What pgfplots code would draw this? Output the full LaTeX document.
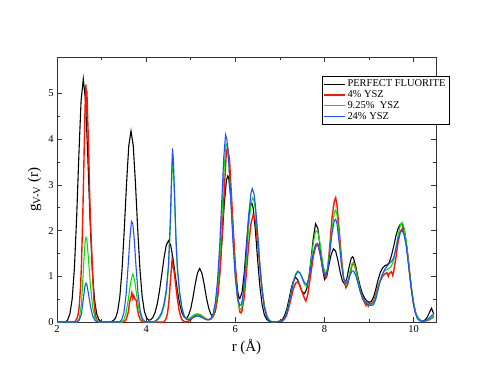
\documentclass[border=0pt]{standalone}
\usepackage{fontspec}
\setmainfont{Liberation Serif}
\usepackage{pgfplots}
\pgfplotsset{compat=1.18}
\definecolor{xgred}{RGB}{255,20,0}
\definecolor{xggreen}{RGB}{0,230,0}
\definecolor{xgblue}{RGB}{30,80,255}
\begin{document}
\begin{tikzpicture}
\path (-57bp,-57bp) rectangle (434bp,322bp);
\begin{axis}[
    at={(0,0)}, anchor=south west,
    scale only axis,
    width=379bp, height=265bp,
    xmin=2, xmax=10.5,
    ymin=0, ymax=5.8,
    xtick={2,4,6,8,10},
    ytick={0,1,2,3,4,5},
    minor x tick num=1,
    minor y tick num=1,
    tick align=inside,
    major tick length=5bp,
    minor tick length=3bp,
    axis line style={black!80, line width=0.6pt},
    every tick/.style={black!80, line width=0.6pt},
    /pgf/number format/assume math mode=true,
    ticklabel style={font=\fontsize{10.5}{12}\selectfont},
    xlabel={r (Å)},
    ylabel={g\textsubscript{V-V} (r)},
    label style={font=\fontsize{15}{17}\selectfont},
    legend cell align=left,
    legend style={at={(rel axis cs:0.699,0.928)}, anchor=north west,
        draw=black, line width=0.6pt, font=\fontsize{10.5}{11}\selectfont,
        inner sep=1.5pt, row sep=-1.5pt},
    legend image code/.code={
        \path (0cm,0cm) -- (0.72cm,0cm);
        \draw[#1, line width=1.1pt] (0.07cm,0cm) -- (0.6cm,0cm);},
]
% PERFECT FLUORITE
\addplot[black, line width=1.1pt] coordinates {
(2.00,0) (2.20,0) (2.24,0.05) (2.29,0.18) (2.34,0.50) (2.39,1.17) (2.44,2.27)
(2.49,3.64) (2.54,4.84) (2.59,5.32) (2.64,4.84) (2.69,3.64) (2.74,2.27) (2.79,1.17)
(2.84,0.50) (2.89,0.18) (2.94,0.05) (2.99,0.01) (3.05,0) (3.20,0) (3.26,0.03)
(3.31,0.08) (3.36,0.23) (3.41,0.56) (3.46,1.16) (3.51,2.04) (3.56,3.03) (3.61,3.86)
(3.66,4.18) (3.71,3.86) (3.76,3.03) (3.81,2.04) (3.86,1.16) (3.91,0.56) (3.96,0.23)
(4.01,0.09) (4.06,0.04) (4.10,0.05) (4.15,0.10) (4.20,0.21) (4.25,0.40) (4.30,0.69)
(4.35,1.04) (4.40,1.40) (4.45,1.68) (4.50,1.78) (4.55,1.68) (4.60,1.40) (4.65,1.04)
(4.70,0.69) (4.75,0.40) (4.80,0.21) (4.85,0.11) (4.90,0.07) (4.95,0.15) (5.00,0.29)
(5.05,0.54) (5.10,0.83) (5.15,1.07) (5.20,1.17) (5.25,1.07) (5.30,0.83) (5.35,0.54)
(5.40,0.31) (5.45,0.17) (5.50,0.12) (5.55,0.23) (5.60,0.52) (5.65,1.04) (5.70,1.78)
(5.75,2.56) (5.80,3.10) (5.83,3.20) (5.85,3.16) (5.90,2.70) (5.95,1.94) (6.00,1.20)
(6.05,0.69) (6.08,0.53) (6.10,0.51) (6.15,0.65) (6.20,1.08) (6.25,1.71) (6.30,2.29)
(6.35,2.59) (6.37,2.60) (6.40,2.50) (6.45,2.00) (6.50,1.36) (6.55,0.78) (6.60,0.38)
(6.65,0.16) (6.70,0.06) (6.75,0.02) (6.80,0.01) (6.95,0) (7.00,0.02) (7.05,0.05)
(7.10,0.13) (7.15,0.27) (7.20,0.48) (7.25,0.72) (7.30,0.90) (7.35,0.98) (7.40,0.92)
(7.45,0.78) (7.50,0.66) (7.55,0.62) (7.60,0.72) (7.65,0.98) (7.70,1.40) (7.75,1.85)
(7.80,2.15) (7.85,2.05) (7.90,1.65) (7.95,1.20) (8.00,0.93) (8.05,1.00) (8.10,1.25)
(8.15,1.48) (8.20,1.60) (8.25,1.55) (8.30,1.35) (8.35,1.10) (8.40,0.90) (8.45,0.83)
(8.50,0.95) (8.55,1.20) (8.60,1.40) (8.63,1.43) (8.65,1.40) (8.70,1.22) (8.75,0.98)
(8.80,0.78) (8.85,0.62) (8.90,0.52) (8.95,0.46) (9.00,0.43) (9.05,0.45) (9.10,0.55)
(9.15,0.72) (9.20,0.92) (9.25,1.08) (9.30,1.18) (9.35,1.23) (9.40,1.25) (9.45,1.30)
(9.50,1.45) (9.55,1.65) (9.60,1.88) (9.65,2.05) (9.70,2.14) (9.73,2.15) (9.75,2.13)
(9.80,1.95) (9.85,1.60) (9.90,1.15) (9.95,0.72) (10.00,0.38) (10.05,0.17) (10.10,0.07)
(10.15,0.03) (10.20,0.02) (10.25,0.04) (10.30,0.10) (10.35,0.20) (10.40,0.30)
(10.45,0.18)
};
\addlegendentry{PERFECT FLUORITE}
% 4% YSZ
\addplot[xgred, line width=1.4pt] coordinates {
(2.00,0) (2.40,0) (2.45,0.08) (2.48,0.20) (2.50,0.35) (2.53,0.80) (2.55,1.30)
(2.58,2.40) (2.61,3.80) (2.63,4.70) (2.65,5.20) (2.66,4.60) (2.67,5.05) (2.69,4.40)
(2.71,3.80) (2.73,2.90) (2.75,2.20) (2.77,1.78) (2.80,1.00) (2.83,0.45) (2.86,0.15)
(2.90,0.03) (2.95,0) (3.50,0) (3.55,0.05) (3.60,0.22) (3.63,0.45) (3.66,0.55)
(3.68,0.64) (3.70,0.52) (3.72,0.58) (3.75,0.50) (3.78,0.47) (3.80,0.30) (3.83,0.15)
(3.87,0.05) (3.92,0) (4.40,0) (4.45,0.08) (4.48,0.20) (4.51,0.45) (4.54,0.85)
(4.56,1.10) (4.58,1.35) (4.60,1.22) (4.62,1.15) (4.64,1.00) (4.67,0.75) (4.70,0.50)
(4.74,0.25) (4.78,0.10) (4.82,0.03) (4.88,0) (4.95,0.02) (5.00,0.05) (5.05,0.10)
(5.10,0.14) (5.15,0.16) (5.20,0.15) (5.25,0.12) (5.30,0.10) (5.35,0.06) (5.40,0.05)
(5.45,0.06) (5.50,0.12) (5.55,0.25) (5.60,0.55) (5.65,1.05) (5.70,1.85) (5.75,2.85)
(5.80,3.75) (5.83,3.80) (5.87,3.55) (5.90,3.00) (5.95,2.10) (6.00,1.20) (6.05,0.55)
(6.10,0.22) (6.13,0.20) (6.15,0.25) (6.20,0.55) (6.25,1.10) (6.30,1.70) (6.35,2.15)
(6.40,2.35) (6.43,2.30) (6.45,2.20) (6.50,1.75) (6.55,1.20) (6.60,0.70) (6.65,0.35)
(6.70,0.15) (6.75,0.05) (6.80,0.01) (6.90,0) (7.05,0.02) (7.10,0.06) (7.15,0.15)
(7.20,0.32) (7.25,0.52) (7.30,0.72) (7.35,0.85) (7.40,0.88) (7.45,0.80) (7.50,0.65)
(7.55,0.52) (7.58,0.46) (7.60,0.52) (7.62,0.58) (7.65,0.78) (7.70,1.10) (7.75,1.45)
(7.80,1.65) (7.85,1.70) (7.90,1.50) (7.95,1.22) (8.00,1.02) (8.03,0.98) (8.07,1.15)
(8.12,1.70) (8.17,2.30) (8.22,2.65) (8.25,2.72) (8.28,2.55) (8.33,2.00) (8.38,1.40)
(8.43,0.95) (8.48,0.75) (8.52,0.82) (8.57,1.05) (8.62,1.25) (8.65,1.30) (8.70,1.15)
(8.75,0.90) (8.80,0.68) (8.85,0.52) (8.90,0.42) (8.93,0.36) (8.95,0.42) (8.98,0.35)
(9.00,0.40) (9.05,0.40) (9.10,0.45) (9.15,0.60) (9.20,0.78) (9.25,0.90) (9.30,1.00)
(9.35,1.05) (9.40,1.08) (9.43,1.00) (9.45,1.06) (9.50,1.10) (9.53,1.02) (9.55,1.10)
(9.60,1.40) (9.65,1.75) (9.70,1.98) (9.75,2.05) (9.80,1.92) (9.85,1.60) (9.90,1.15)
(9.95,0.72) (10.00,0.38) (10.05,0.18) (10.10,0.08) (10.15,0.04) (10.20,0.02)
(10.25,0.02) (10.30,0.03) (10.35,0.05) (10.40,0.08) (10.45,0.12)
};
\addlegendentry{4\% YSZ}
% 9.25% YSZ
\addplot[xggreen, line width=1.1pt] coordinates {
(2.00,0) (2.45,0) (2.50,0.08) (2.55,0.40) (2.60,1.30) (2.63,1.75) (2.65,1.85)
(2.67,1.80) (2.70,1.45) (2.75,0.80) (2.80,0.32) (2.85,0.10) (2.90,0.02) (2.95,0)
(3.45,0) (3.50,0.05) (3.55,0.20) (3.60,0.50) (3.65,0.85) (3.68,0.98) (3.70,1.05)
(3.72,1.00) (3.75,0.85) (3.80,0.50) (3.85,0.22) (3.90,0.07) (3.95,0.01) (4.00,0)
(4.20,0) (4.25,0.04) (4.30,0.09) (4.35,0.18) (4.40,0.34) (4.45,0.62) (4.50,1.15)
(4.54,2.05) (4.57,3.00) (4.59,3.58) (4.61,3.40) (4.64,2.60) (4.67,1.72) (4.70,1.15)
(4.75,0.62) (4.80,0.30) (4.85,0.13) (4.90,0.07) (4.95,0.07) (5.00,0.10) (5.05,0.14)
(5.10,0.17) (5.15,0.18) (5.20,0.17) (5.25,0.14) (5.30,0.10) (5.35,0.06) (5.40,0.05)
(5.45,0.07) (5.50,0.15) (5.55,0.35) (5.60,0.75) (5.65,1.45) (5.70,2.40) (5.75,3.40)
(5.79,3.90) (5.82,3.85) (5.85,3.50) (5.90,2.70) (5.95,1.80) (6.00,1.00) (6.05,0.50)
(6.10,0.28) (6.13,0.28) (6.15,0.35) (6.20,0.75) (6.25,1.40) (6.30,2.10) (6.35,2.60)
(6.39,2.72) (6.42,2.65) (6.45,2.45) (6.50,1.90) (6.55,1.25) (6.60,0.72) (6.65,0.35)
(6.70,0.14) (6.75,0.05) (6.80,0.01) (6.90,0) (7.05,0.03) (7.10,0.08) (7.15,0.20)
(7.20,0.40) (7.25,0.65) (7.30,0.88) (7.35,1.05) (7.40,1.12) (7.45,1.08) (7.50,0.95)
(7.55,0.82) (7.60,0.78) (7.65,0.95) (7.70,1.35) (7.75,1.75) (7.80,1.98) (7.84,2.00)
(7.88,1.85) (7.93,1.50) (7.98,1.18) (8.03,1.05) (8.07,1.18) (8.12,1.60) (8.17,2.05)
(8.22,2.40) (8.25,2.45) (8.28,2.35) (8.33,1.85) (8.38,1.30) (8.43,0.95) (8.48,0.82)
(8.52,0.88) (8.57,1.10) (8.62,1.28) (8.65,1.30) (8.70,1.15) (8.75,0.92) (8.80,0.70)
(8.85,0.55) (8.90,0.45) (8.95,0.40) (9.00,0.38) (9.05,0.38) (9.10,0.42) (9.15,0.55)
(9.20,0.75) (9.25,0.92) (9.30,1.05) (9.35,1.12) (9.40,1.15) (9.45,1.18) (9.50,1.22)
(9.55,1.35) (9.60,1.62) (9.65,1.90) (9.70,2.12) (9.74,2.18) (9.78,2.08) (9.83,1.78)
(9.88,1.35) (9.93,0.90) (9.98,0.52) (10.03,0.25) (10.08,0.10) (10.13,0.04)
(10.20,0.02) (10.25,0.02) (10.30,0.04) (10.35,0.06) (10.40,0.10) (10.45,0.15)
};
\addlegendentry{9.25\%\ \ YSZ}
% 24% YSZ
\addplot[xgblue, line width=1.1pt] coordinates {
(2.00,0) (2.45,0) (2.50,0.04) (2.55,0.18) (2.60,0.58) (2.63,0.80) (2.65,0.85)
(2.67,0.82) (2.70,0.65) (2.75,0.35) (2.80,0.13) (2.85,0.04) (2.90,0) (3.40,0)
(3.45,0.05) (3.50,0.20) (3.55,0.60) (3.60,1.30) (3.64,1.90) (3.67,2.20) (3.70,2.15)
(3.73,1.85) (3.77,1.25) (3.82,0.60) (3.87,0.22) (3.92,0.06) (3.97,0.01) (4.00,0)
(4.15,0) (4.20,0.02) (4.25,0.06) (4.30,0.12) (4.35,0.22) (4.40,0.40) (4.45,0.70)
(4.50,1.25) (4.54,2.20) (4.57,3.20) (4.59,3.80) (4.61,3.55) (4.64,2.70) (4.67,1.80)
(4.70,1.20) (4.75,0.65) (4.80,0.32) (4.85,0.14) (4.90,0.06) (4.95,0.05) (5.00,0.07)
(5.05,0.10) (5.10,0.12) (5.15,0.13) (5.20,0.12) (5.25,0.10) (5.30,0.07) (5.35,0.05)
(5.40,0.05) (5.45,0.08) (5.50,0.18) (5.55,0.42) (5.60,0.90) (5.65,1.70) (5.70,2.75)
(5.74,3.60) (5.78,4.10) (5.81,4.00) (5.85,3.55) (5.90,2.65) (5.95,1.70) (6.00,0.95)
(6.05,0.52) (6.10,0.36) (6.13,0.38) (6.16,0.50) (6.20,0.90) (6.25,1.60) (6.30,2.35)
(6.35,2.82) (6.38,2.92) (6.42,2.80) (6.45,2.55) (6.50,1.95) (6.55,1.25) (6.60,0.70)
(6.65,0.32) (6.70,0.12) (6.75,0.04) (6.80,0.01) (6.90,0) (7.05,0.03) (7.10,0.08)
(7.15,0.18) (7.20,0.38) (7.25,0.62) (7.30,0.85) (7.35,1.02) (7.40,1.10) (7.45,1.07)
(7.50,0.97) (7.55,0.86) (7.60,0.82) (7.65,0.95) (7.70,1.25) (7.75,1.52) (7.80,1.70)
(7.84,1.72) (7.88,1.60) (7.93,1.35) (7.98,1.10) (8.02,1.02) (8.07,1.15) (8.12,1.52)
(8.17,1.95) (8.22,2.22) (8.25,2.25) (8.28,2.15) (8.33,1.72) (8.38,1.25) (8.43,0.95)
(8.48,0.85) (8.52,0.88) (8.57,1.02) (8.62,1.12) (8.65,1.12) (8.70,1.02) (8.75,0.85)
(8.80,0.68) (8.85,0.55) (8.90,0.46) (8.95,0.40) (9.00,0.37) (9.05,0.36) (9.10,0.38)
(9.15,0.50) (9.20,0.70) (9.25,0.90) (9.30,1.05) (9.35,1.15) (9.40,1.22) (9.45,1.28)
(9.50,1.32) (9.55,1.40) (9.60,1.60) (9.65,1.82) (9.70,1.96) (9.74,2.00) (9.78,1.92)
(9.83,1.68) (9.88,1.28) (9.93,0.85) (9.98,0.48) (10.03,0.22) (10.08,0.08)
(10.13,0.03) (10.20,0.02) (10.25,0.03) (10.30,0.05) (10.35,0.09) (10.40,0.14)
(10.45,0.19)
};
\addlegendentry{24\% YSZ}
\end{axis}
\end{tikzpicture}
\end{document}
